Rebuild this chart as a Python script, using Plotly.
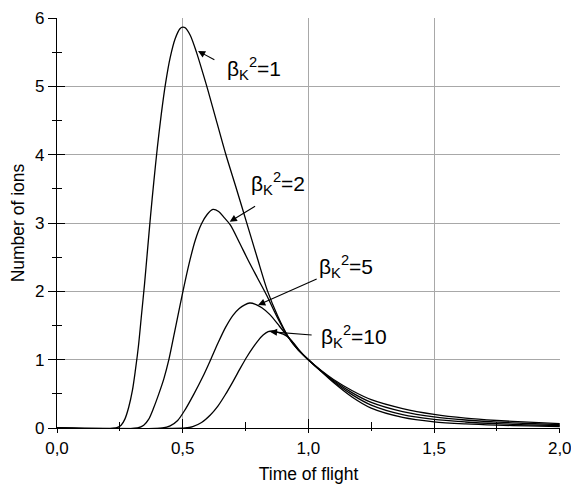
import plotly.graph_objects as go

# ---- data ----
t_b1 = [0.0, 0.235, 0.255, 0.27, 0.285, 0.30, 0.312, 0.324, 0.336, 0.348, 0.36, 0.372, 0.385, 0.399,
        0.415, 0.432, 0.45, 0.47, 0.49, 0.50, 0.51, 0.53, 0.555, 0.58, 0.60, 0.634, 0.672, 0.714,
        0.755, 0.796, 0.838, 0.878, 0.92, 0.96, 1.0, 1.05, 1.1, 1.175, 1.25, 1.375, 1.5, 1.625,
        1.75, 1.875, 2.0]
n_b1 = [0.0, 0.0, 0.04, 0.13, 0.3, 0.55, 0.85, 1.2, 1.65, 2.1, 2.6, 3.1, 3.6, 4.1,
        4.6, 5.05, 5.42, 5.7, 5.85, 5.87, 5.86, 5.75, 5.5, 5.2, 4.95, 4.5, 4.0, 3.5,
        3.0, 2.5, 2.0, 1.64, 1.335, 1.14, 1.0, 0.83, 0.665, 0.45, 0.29, 0.155, 0.09, 0.06,
        0.042, 0.03, 0.022]

t_b2 = [0.0, 0.32, 0.345, 0.365, 0.385, 0.405, 0.425, 0.445, 0.473, 0.501, 0.525, 0.55, 0.575,
        0.598, 0.62, 0.643, 0.665, 0.69, 0.725, 0.76, 0.797, 0.833, 0.875, 0.92, 0.96, 1.0,
        1.05, 1.1, 1.175, 1.25, 1.375, 1.5, 1.625, 1.75, 1.875, 2.0]
n_b2 = [0.0, 0.0, 0.04, 0.13, 0.3, 0.5, 0.72, 1.0, 1.5, 2.0, 2.4, 2.75, 2.99,
        3.13, 3.2, 3.17, 3.08, 2.97, 2.72, 2.46, 2.2, 1.95, 1.63, 1.33, 1.14, 1.0,
        0.835, 0.68, 0.485, 0.335, 0.195, 0.125, 0.088, 0.063, 0.047, 0.035]

t_b5 = [0.0, 0.42, 0.45, 0.48, 0.51, 0.545, 0.58, 0.61, 0.64, 0.67, 0.70, 0.725, 0.745, 0.767,
        0.79, 0.815, 0.847, 0.885, 0.92, 0.96, 1.0, 1.05, 1.1, 1.175, 1.25, 1.375, 1.5, 1.625,
        1.75, 1.875, 2.0]
n_b5 = [0.0, 0.0, 0.03, 0.11, 0.27, 0.5, 0.75, 0.99, 1.24, 1.47, 1.65, 1.75, 1.8, 1.83,
        1.81, 1.76, 1.66, 1.49, 1.33, 1.15, 1.0, 0.84, 0.695, 0.515, 0.375, 0.24, 0.162, 0.117,
        0.087, 0.066, 0.05]

t_b10 = [0.0, 0.51, 0.54, 0.575, 0.61, 0.64, 0.67, 0.70, 0.73, 0.755, 0.78, 0.80, 0.82, 0.84,
         0.86, 0.88, 0.90, 0.92, 0.94, 0.96, 0.98, 1.0, 1.05, 1.1, 1.175, 1.25, 1.375, 1.5,
         1.625, 1.75, 1.875, 2.0]
n_b10 = [0.0, 0.0, 0.02, 0.08, 0.19, 0.32, 0.49, 0.68, 0.88, 1.04, 1.18, 1.28, 1.36, 1.41,
         1.42, 1.40, 1.375, 1.33, 1.25, 1.155, 1.07, 1.0, 0.845, 0.71, 0.545, 0.415, 0.285, 0.2,
         0.145, 0.11, 0.085, 0.065]

series = [(t_b1, n_b1), (t_b2, n_b2), (t_b5, n_b5), (t_b10, n_b10)]

x_tickvals = [0.0, 0.5, 1.0, 1.5, 2.0]
x_ticktext = ["0,0", "0,5", "1,0", "1,5", "2,0"]
y_tickvals = [0, 1, 2, 3, 4, 5, 6]
y_ticktext = ["0", "1", "2", "3", "4", "5", "6"]

labels = ["β<sub>K</sub><sup>2</sup>=1", "β<sub>K</sub><sup>2</sup>=2",
          "β<sub>K</sub><sup>2</sup>=5", "β<sub>K</sub><sup>2</sup>=10"]
# label text position, arrow tail, arrow head (data coords)
label_pos = [(0.785, 5.26), (0.88, 3.58), (1.15, 2.36), (1.18, 1.335)]
arrow_tail = [(0.632, 5.38), (0.794, 3.26), (1.039, 2.19), (1.019, 1.36)]
arrow_head = [(0.561, 5.52), (0.687, 3.02), (0.80, 1.80), (0.847, 1.41)]

FONT = "Arial"
X_RANGE = [0, 2.001]
Y_RANGE = [0, 6.003]

fig = go.Figure()
for t, n in series:
    fig.add_trace(go.Scatter(x=t, y=n, mode="lines",
                             line=dict(color="black", width=1.3, shape="spline", smoothing=0.8),
                             showlegend=False, hoverinfo="skip"))
# dummy trace for overlay axes (inside ticks)
fig.add_trace(go.Scatter(x=[None], y=[None], xaxis="x2", yaxis="y2", showlegend=False,
                         hoverinfo="skip"))

common_x = dict(range=X_RANGE, tickvals=x_tickvals, linecolor="black", linewidth=1.3,
                tickcolor="black", tickwidth=1.3, automargin=False,
                minor=dict(dtick=0.25, tick0=0, tickcolor="black", tickwidth=1.3, showgrid=False))
common_y = dict(range=Y_RANGE, tickvals=y_tickvals, linecolor="black", linewidth=1.3,
                tickcolor="black", tickwidth=1.3, automargin=False,
                minor=dict(dtick=0.5, tick0=0, tickcolor="black", tickwidth=1.3, showgrid=False))

fig.update_layout(
    width=571, height=485,
    margin=dict(l=57, r=11, t=18, b=57, autoexpand=False),
    paper_bgcolor="white", plot_bgcolor="white",
    font=dict(family=FONT, color="black", size=17),
    xaxis=dict(**common_x, ticktext=x_ticktext, ticks="outside", ticklen=4, showline=True,
               minor_ticks="outside", minor_ticklen=2, ticklabeloverflow="allow",
               showgrid=True, gridcolor="#a8a8a8", gridwidth=1, zeroline=False,
               tickfont=dict(size=17),
               title=dict(text="Time of flight", font=dict(size=17.5), standoff=11)),
    yaxis=dict(**common_y, ticktext=y_ticktext, ticks="outside", ticklen=8, showline=True,
               minor_ticks="outside", minor_ticklen=4, ticklabeloverflow="allow",
               showgrid=True, gridcolor="#a8a8a8", gridwidth=1, zeroline=False,
               tickfont=dict(size=17),
               title=dict(text="Number of ions", font=dict(size=17.5), standoff=5)),
    xaxis2=dict(**common_x, overlaying="x", anchor="y2", side="bottom", ticks="inside",
                ticklen=9, minor_ticks="inside", minor_ticklen=6,
                showline=False, showgrid=False, zeroline=False, showticklabels=False),
    yaxis2=dict(**common_y, overlaying="y", anchor="x2", side="left", ticks="inside",
                ticklen=8, minor_ticks="inside", minor_ticklen=5,
                showline=False, showgrid=False, zeroline=False, showticklabels=False),
)

for txt, (lx, ly), (tx, ty), (hx, hy) in zip(labels, label_pos, arrow_tail, arrow_head):
    fig.add_annotation(x=lx, y=ly, text=txt, showarrow=False,
                       font=dict(size=21, family=FONT, color="black"))
    fig.add_annotation(x=hx, y=hy, ax=tx, ay=ty, axref="x", ayref="y", text="",
                       showarrow=True, arrowhead=2, arrowsize=1.3, arrowwidth=1.1,
                       arrowcolor="black")

fig.write_html("out.html")
